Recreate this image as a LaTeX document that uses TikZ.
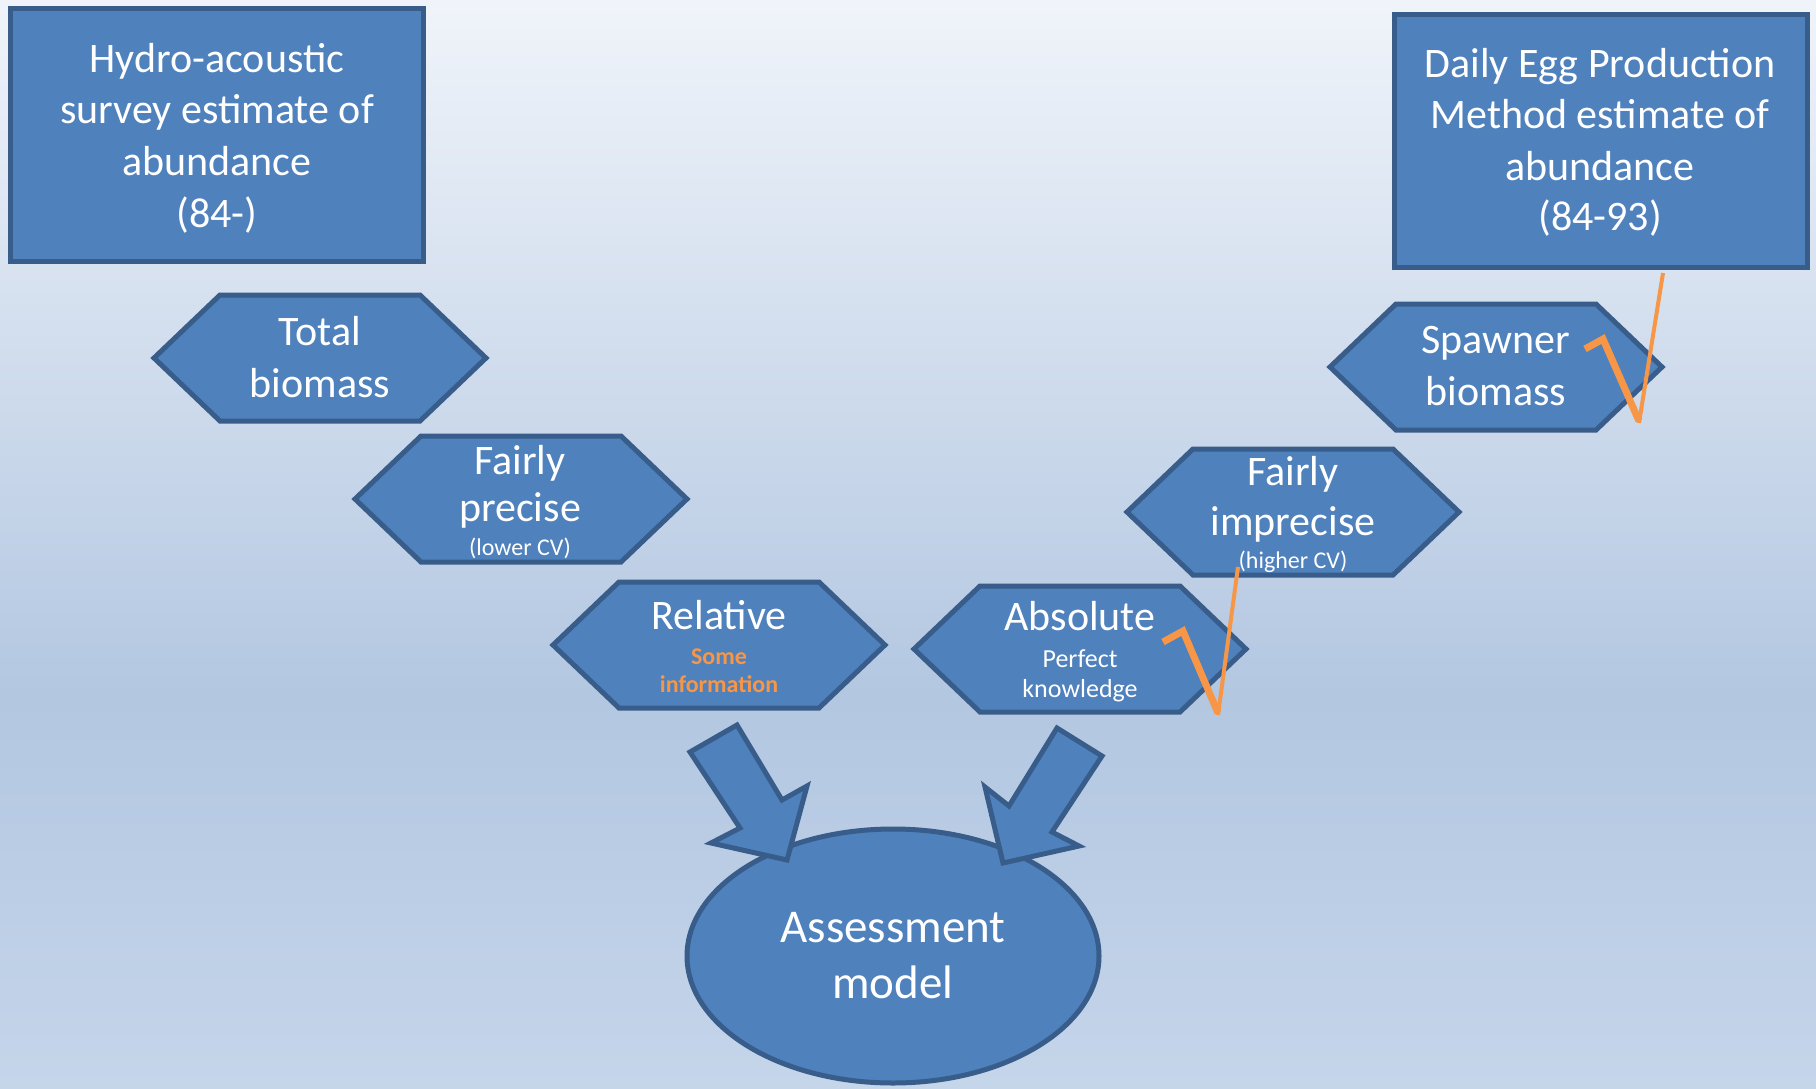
\documentclass[tikz,border=0pt]{standalone}
\usepackage{fontspec}
\setmainfont{Carlito}
\usetikzlibrary{shapes.geometric}
\definecolor{fillblue}{HTML}{4F81BD}
\definecolor{edgeblue}{HTML}{385D8A}
\definecolor{chk}{HTML}{F79646}
\definecolor{bgtop}{HTML}{F0F4FA}
\definecolor{bgmid}{HTML}{B3C7E1}
\definecolor{bgbot}{HTML}{C5D5EA}
\pgfdeclareverticalshading{bgshade}{100bp}{color(0bp)=(bgbot); color(25bp)=(bgbot); color(43bp)=(bgmid); color(75bp)=(bgtop); color(100bp)=(bgtop)}
\tikzset{
  shapestyle/.style={draw=edgeblue, fill=fillblue, line width=5pt, line join=miter},
  box/.style={shapestyle, rectangle, inner sep=0pt, minimum width=413pt, minimum height=253pt},
  hexa/.pic={\draw[shapestyle] (-166,0) -- (-100,-63) -- (100,-63) -- (166,0) -- (100,63) -- (-100,63) -- cycle;},
  tbig/.style={text=white, inner sep=0pt, anchor=base, font=\fontsize{42}{50}\selectfont},
  tsmall/.style={text=white, inner sep=0pt, anchor=base, font=\fontsize{24}{28}\selectfont},
  tmid/.style={text=white, inner sep=0pt, anchor=base, font=\fontsize{26}{30}\selectfont},
  torange/.style={text=chk, inner sep=0pt, anchor=base, font=\fontsize{24}{28}\selectfont\bfseries},
  tmodel/.style={text=white, inner sep=0pt, anchor=base, font=\fontsize{47}{56}\selectfont},
  blockarrow/.style={shapestyle},
  checkthick/.style={draw=chk, line width=7pt, line join=miter},
  checkthin/.style={draw=chk, line width=4pt}
}
\begin{document}
\begin{tikzpicture}[x=1pt,y=-1pt]
\useasboundingbox (0,0) rectangle (1816,1088);
\shade[shading=bgshade] (0,0) rectangle (1816,1088);

% source boxes
\node[box] (hydro) at (217,135) {};
\node[tbig] (h1) at (217,72) {Hydro-acoustic};
\node[tbig] (h2) at (217,123) {survey estimate of};
\node[tbig] (h3) at (217,175) {abundance};
\node[tbig] (h4) at (217,227) {(84-)};

\node[box] (depm) at (1601,140.5) {};
\node[tbig] (d1) at (1600,77) {Daily Egg Production};
\node[tbig] (d2) at (1600,128) {Method estimate of};
\node[tbig] (d3) at (1600,180) {abundance};
\node[tbig] (d4) at (1600,230) {(84-93)};

% hexagons
\pic at (320,358) {hexa};
\node[tbig] (tb1) at (320,345) {Total};
\node[tbig] (tb2) at (320,397) {biomass};

\pic at (521,499) {hexa};
\node[tbig] (fp1) at (520,474) {Fairly};
\node[tbig] (fp2) at (520,521) {precise};
\node[tsmall] (fp3) at (520,555) {(lower CV)};

\pic at (719,645) {hexa};
\node[tbig] (rl1) at (719,629) {Relative};
\node[torange] (rl2) at (719,664) {Some};
\node[torange] (rl3) at (719,692) {information};

\pic at (1080,649) {hexa};
\node[tbig] (ab1) at (1080,630) {Absolute};
\node[tmid] (ab2) at (1080,667) {Perfect};
\node[tmid] (ab3) at (1080,697) {knowledge};

\pic at (1293,512) {hexa};
\node[tbig] (fi1) at (1293,485) {Fairly};
\node[tbig] (fi2) at (1293,535) {imprecise};
\node[tsmall] (fi3) at (1293,568) {(higher CV)};

\pic at (1496,367) {hexa};
\node[tbig] (sb1) at (1496,353) {Spawner};
\node[tbig] (sb2) at (1496,405) {biomass};

% assessment model
\node[shapestyle, ellipse, minimum width=412pt, minimum height=254pt, inner sep=0pt] (am) at (893,956) {};
\node[tmodel] (am1) at (893,942) {Assessment};
\node[tmodel] (am2) at (893,998) {model};

% block arrows
\draw[blockarrow] (690,752) -- (737,725) -- (782,800) -- (807,786) -- (787,860) -- (711,843) -- (740,828) -- cycle;
\draw[blockarrow] (1057,728) -- (1102,756) -- (1052,832) -- (1079,846) -- (1003,863) -- (985,787) -- (1009,806) -- cycle;

% check marks
\draw[checkthick] (1585,349) -- (1603,339) -- (1639,421);
\draw[checkthin] (1639,423) -- (1663,273);
\draw[checkthick] (1163,642) -- (1183,631) -- (1218,713);
\draw[checkthin] (1218,715) -- (1238,567);
\end{tikzpicture}
\end{document}
